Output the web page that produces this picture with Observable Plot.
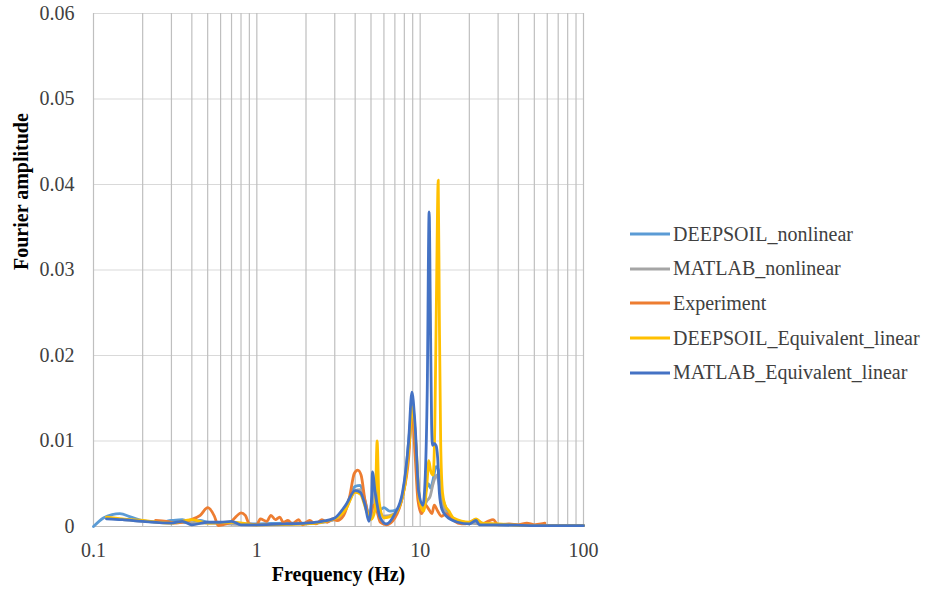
<!DOCTYPE html>
<html>
<head>
<meta charset="utf-8">
<script src="https://cdn.jsdelivr.net/npm/d3@7"></script>
<script src="https://cdn.jsdelivr.net/npm/@observablehq/plot@0.6"></script>
<style>
  body { margin: 0; background: #fff; }
  #wrap { position: relative; width: 932px; height: 596px; font-family: "Times New Roman", Times, "Liberation Serif", "DejaVu Serif", serif; }
  #legend { position: absolute; left: 630px; top: 217px; font-size: 20px; color: #404040; }
  #legend .row { display: flex; align-items: center; height: 34.6px; }
  #legend svg { margin-right: 3px; }
</style>
</head>
<body>
<div id="wrap"><div id="chart"></div><div id="legend"></div></div>
<script>
// ---- data ----
const seriesNames = ["DEEPSOIL_nonlinear", "MATLAB_nonlinear", "Experiment", "DEEPSOIL_Equivalent_linear", "MATLAB_Equivalent_linear"];
const seriesColors = ["#5B9BD5", "#A5A5A5", "#ED7D31", "#FFC000", "#4472C4"];

const xTicks = [0.1, 1, 10, 100];
const yTicks = [0, 0.01, 0.02, 0.03, 0.04, 0.05, 0.06];
const xGrid = [0.1, 0.2, 0.3, 0.4, 0.5, 0.6, 0.7, 0.8, 0.9, 1, 2, 3, 4, 5, 6, 7, 8, 9, 10, 20, 30, 40, 50, 60, 70, 80, 90, 100];

const dsNlFreq = [0.1, 0.115, 0.13, 0.145, 0.17, 0.2, 0.25, 0.3, 0.35, 0.4, 0.45, 0.5, 0.7, 0.8, 1, 1.5, 2, 2.5, 3, 3.5, 4.0, 4.3, 4.6, 4.9, 5.2, 5.4, 5.7, 6.0, 6.5, 7.2, 8, 8.6, 8.95, 9.3, 9.8, 10.3, 10.8, 11.2, 11.6, 12, 12.5, 13, 13.5, 14.5, 16, 20, 22, 25, 30, 50, 100];
const dsNlAmp  = [0.0, 0.001, 0.0014, 0.0015, 0.0011, 0.0007, 0.0005, 0.0007, 0.0008, 0.0004, 0.0007, 0.0005, 0.0004, 0.0003, 0.0003, 0.0004, 0.0004, 0.0005, 0.0009, 0.0022, 0.0047, 0.0048, 0.003, 0.0012, 0.0045, 0.004, 0.002, 0.0022, 0.0018, 0.002, 0.005, 0.011, 0.0145, 0.011, 0.004, 0.002, 0.004, 0.005, 0.0045, 0.0055, 0.007, 0.0065, 0.004, 0.002, 0.0008, 0.0004, 0.0006, 0.0003, 0.0002, 0.0001, 0.0001];

const mlNlFreq = [0.12, 0.2, 0.5, 1, 2, 3, 3.5, 4, 4.3, 4.7, 5.0, 5.25, 5.5, 6, 7, 8, 8.6, 8.95, 9.3, 9.8, 10.3, 11, 11.5, 12, 12.6, 13.2, 14, 16, 20, 30, 100];
const mlNlAmp  = [0.001, 0.0006, 0.0004, 0.0002, 0.0003, 0.0008, 0.002, 0.0042, 0.0043, 0.002, 0.001, 0.004, 0.0025, 0.0012, 0.0015, 0.0045, 0.01, 0.0135, 0.01, 0.004, 0.002, 0.003, 0.0035, 0.005, 0.006, 0.0045, 0.002, 0.0008, 0.0004, 0.0002, 0.0001];

const expFreq = [0.24, 0.28, 0.32, 0.38, 0.45, 0.5, 0.55, 0.58, 0.62, 0.7, 0.75, 0.8, 0.85, 0.9, 1.0, 1.05, 1.15, 1.22, 1.3, 1.38, 1.45, 1.55, 1.65, 1.8, 1.9, 2.1, 2.3, 2.5, 2.7, 2.9, 3.1, 3.4, 3.7, 3.95, 4.15, 4.35, 4.6, 4.9, 5.2, 5.4, 5.7, 6.2, 7, 7.8, 8.5, 8.9, 9.3, 9.7, 10.2, 10.8, 11.3, 11.8, 12.2, 12.8, 13.5, 14.5, 15.5, 17, 19, 22, 24, 26, 28, 30, 35, 40, 45, 50, 55, 58];
const expAmp  = [0.0007, 0.0006, 0.0004, 0.0007, 0.0013, 0.0022, 0.0012, 0.0001, 0.0002, 0.0006, 0.0012, 0.0016, 0.0013, 0.0003, 0.0002, 0.0009, 0.0006, 0.0013, 0.0008, 0.0011, 0.0005, 0.0007, 0.0003, 0.0008, 0.0002, 0.0007, 0.0003, 0.0008, 0.0005, 0.0009, 0.0007, 0.0013, 0.0035, 0.0062, 0.0066, 0.006, 0.003, 0.0012, 0.0025, 0.002, 0.0005, 0.0002, 0.001, 0.0035, 0.008, 0.0135, 0.0085, 0.003, 0.0015, 0.0025, 0.002, 0.0015, 0.0025, 0.0018, 0.0012, 0.0015, 0.001, 0.0004, 0.0003, 0.0008, 0.0003, 0.0006, 0.0008, 0.0002, 0.0003, 0.0002, 0.0004, 0.0002, 0.0003, 0.0004];

const dsEqFreq = [0.12, 0.15, 0.2, 0.3, 0.4, 0.5, 0.7, 1, 2, 3, 3.5, 4, 4.3, 4.7, 5.0, 5.3, 5.45, 5.6, 6, 7, 8, 8.6, 8.95, 9.4, 9.9, 10.5, 11.0, 11.3, 11.6, 12.0, 12.3, 12.6, 12.9, 13.1, 13.35, 13.7, 14.2, 15, 16, 20, 22, 24, 30, 50, 100];
const dsEqAmp  = [0.0011, 0.0009, 0.0007, 0.0004, 0.0008, 0.0004, 0.0005, 0.0002, 0.0003, 0.0009, 0.002, 0.004, 0.0038, 0.0018, 0.0008, 0.002, 0.01, 0.003, 0.001, 0.0015, 0.0045, 0.01, 0.014, 0.01, 0.003, 0.0018, 0.005, 0.0077, 0.0065, 0.006, 0.012, 0.028, 0.0405, 0.025, 0.01, 0.004, 0.0025, 0.0018, 0.001, 0.0005, 0.0009, 0.0004, 0.0003, 0.0001, 0.0001];

const mlEqFreq = [0.12, 0.15, 0.2, 0.3, 0.35, 0.4, 0.5, 0.6, 0.7, 0.8, 1, 1.5, 2, 2.5, 3, 3.5, 4, 4.3, 4.6, 4.85, 5.05, 5.1, 5.3, 5.7, 6.2, 7, 7.8, 8.5, 8.9, 9.3, 9.8, 10.4, 10.75, 11.05, 11.35, 11.55, 11.75, 11.9, 12.2, 12.5, 12.8, 13.1, 13.6, 14.5, 17, 20, 22, 23, 30, 50, 100];
const mlEqAmp  = [0.0009, 0.0008, 0.0006, 0.0004, 0.0006, 0.0002, 0.0005, 0.0005, 0.0006, 0.0002, 0.0002, 0.0003, 0.0004, 0.0006, 0.001, 0.0025, 0.0042, 0.004, 0.0025, 0.0006, 0.0035, 0.0064, 0.004, 0.001, 0.0003, 0.0015, 0.004, 0.01, 0.0157, 0.012, 0.004, 0.0025, 0.006, 0.016, 0.0368, 0.025, 0.012, 0.0095, 0.0097, 0.0095, 0.008, 0.004, 0.002, 0.0012, 0.0005, 0.0003, 0.0007, 0.0002, 0.0002, 0.0001, 0.0001];

// ---- build table ----
const seriesFreq = [dsNlFreq, mlNlFreq, expFreq, dsEqFreq, mlEqFreq];
const seriesAmp = [dsNlAmp, mlNlAmp, expAmp, dsEqAmp, mlEqAmp];
const tables = seriesNames.map((name, i) => seriesFreq[i].map((f, j) => ({series: name, f, a: seriesAmp[i][j]})));

const font = '"Times New Roman", Times, "Liberation Serif", "DejaVu Serif", serif';

const chart = Plot.plot({
  width: 932,
  height: 596,
  marginLeft: 93,
  marginRight: 349,
  marginTop: 13,
  marginBottom: 70,
  style: {fontFamily: font, fontSize: "20px", color: "#404040", background: "#fff"},
  x: {type: "log", domain: [0.1, 100]},
  y: {domain: [0, 0.06]},
  marks: [
    Plot.ruleY(yTicks, {stroke: "#d9d9d9", strokeWidth: 1}),
    Plot.ruleX(xGrid, {stroke: "#bfbfbf", strokeWidth: 1.2}),
    Plot.ruleY([0], {stroke: "#bfbfbf", strokeWidth: 1.2}),
    ...tables.map((t, i) => Plot.line(t, {x: "f", y: "a", stroke: seriesColors[i], strokeWidth: 2.8, curve: "monotone-x", strokeLinejoin: "round"})),
    Plot.axisX(xTicks, {tickSize: 0, tickPadding: 16, tickFormat: d => String(d), label: null, fill: "#404040", fontFamily: font}),
    Plot.axisY(yTicks, {tickSize: 0, tickPadding: 19, tickFormat: d => d === 0 ? "0" : d3.format(".2f")(d), label: null, fill: "#404040", fontFamily: font}),
    Plot.text(["Frequency (Hz)"], {frameAnchor: "bottom", dy: 54, fontWeight: "bold", fill: "#000", fontSize: 20, fontFamily: font}),
    Plot.text(["Fourier amplitude"], {frameAnchor: "left", dx: -72, rotate: -90, fontWeight: "bold", fill: "#000", fontSize: 20, fontFamily: font})
  ]
});
document.getElementById("chart").appendChild(chart);

// ---- legend ----
const legend = document.getElementById("legend");
seriesNames.forEach((name, i) => {
  const row = document.createElement("div");
  row.className = "row";
  row.innerHTML = `<svg width="40" height="10"><line x1="0" x2="40" y1="5" y2="5" stroke="${seriesColors[i]}" stroke-width="2.8"/></svg><span>${name}</span>`;
  legend.appendChild(row);
});
</script>
</body>
</html>
